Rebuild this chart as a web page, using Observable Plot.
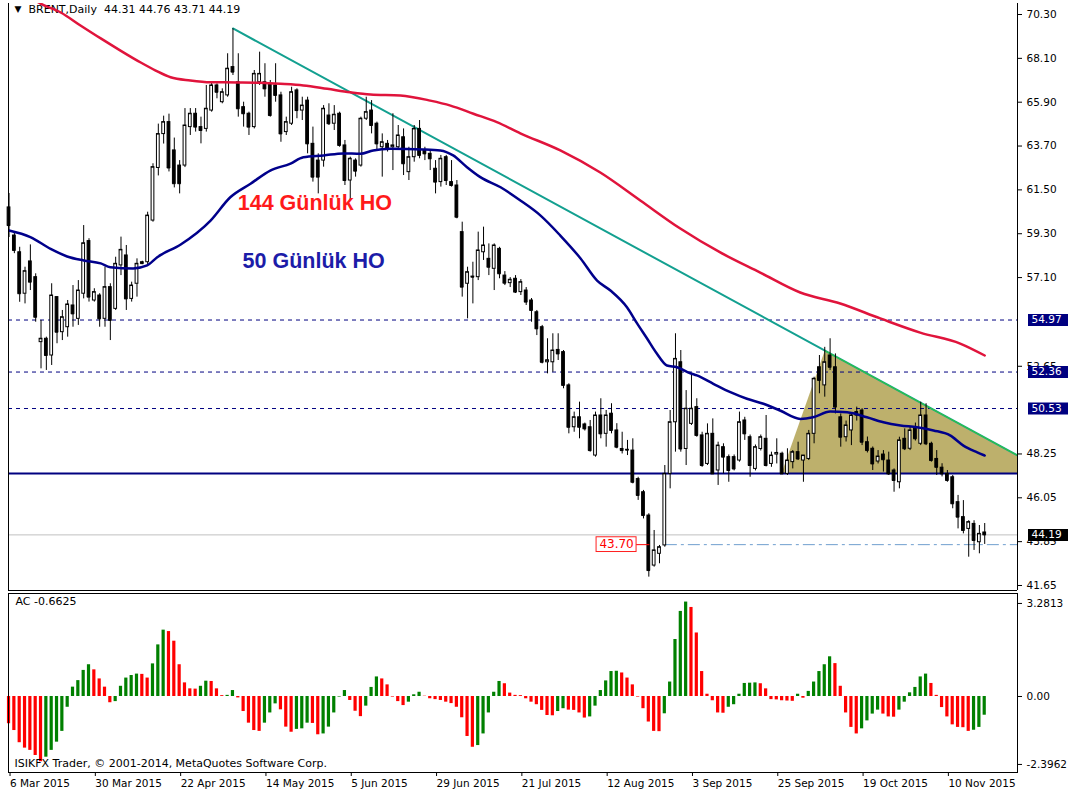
<!DOCTYPE html>
<html><head><meta charset="utf-8">
<script src="https://cdn.jsdelivr.net/npm/d3@7"></script>
<script src="https://cdn.jsdelivr.net/npm/@observablehq/plot@0.6"></script>
<style>
body{margin:0;background:#fff;}
#wrap{position:relative;width:1068px;height:798px;overflow:hidden;background:#fff;}
#wrap svg{position:absolute;left:0;overflow:visible;}
</style></head><body><div id="wrap"></div>
<script>
// ---------- DATA ----------
const opens  = [60.62,59.21,58.37,56.29,57.91,57.12,53.86,54.03,53.19,56.12,54.36,54.61,55.70,55.03,56.29,58.93,55.95,56.20,55.03,56.62,55.53,57.71,58.21,56.03,56.79,57.87,57.87,59.96,62.60,64.30,64.90,63.48,62.72,62.72,64.65,65.32,64.65,64.56,65.48,66.74,65.90,66.24,67.66,66.90,65.65,65.32,64.65,66.90,66.90,66.82,66.74,66.24,64.40,64.82,66.49,65.48,65.98,63.81,62.97,62.97,65.23,64.82,65.32,63.73,61.97,62.97,62.72,65.07,65.48,64.82,63.64,63.81,63.64,63.64,64.14,62.39,63.14,64.56,63.48,63.31,62.56,61.89,63.14,61.89,61.72,59.38,56.79,57.15,57.12,58.37,58.04,57.54,58.54,57.20,56.82,57.04,56.37,56.45,55.95,55.36,54.61,52.85,52.85,53.47,53.36,51.69,49.59,50.09,49.73,49.59,48.17,50.18,49.26,50.27,49.43,48.50,48.46,48.42,46.99,46.33,45.16,42.65,43.24,43.66,47.25,49.84,52.85,48.50,49.76,50.60,49.18,47.75,49.26,47.42,48.59,48.09,48.09,47.92,49.93,49.09,47.50,48.50,49.01,47.75,48.22,48.26,47.25,47.84,48.34,47.92,48.00,49.26,52.60,51.69,53.19,52.60,50.09,49.09,49.43,50.35,50.43,48.84,48.51,47.87,48.22,47.92,47.42,46.83,49.01,48.51,49.51,48.76,50.18,48.76,48.00,47.56,47.25,47.08,45.83,45.08,44.49,44.74,43.82,44.31];
const highs  = [61.32,59.35,58.62,57.62,58.74,57.29,54.95,54.11,56.79,56.12,55.45,55.95,56.70,56.95,59.71,59.05,56.54,56.29,57.62,56.79,58.12,59.13,58.71,56.87,58.04,57.92,60.38,62.81,64.80,65.20,65.30,64.10,62.97,65.58,65.58,65.58,65.15,66.74,66.90,66.82,66.57,68.33,69.58,68.33,65.90,65.40,67.49,68.41,67.83,66.99,67.83,66.40,65.15,66.65,66.57,66.15,66.15,64.65,63.31,65.73,65.82,65.73,65.40,63.98,63.14,63.06,65.15,66.15,65.98,64.90,64.31,63.98,65.32,64.73,64.56,63.64,64.73,64.98,63.64,63.48,62.97,63.23,63.23,62.97,61.97,59.88,57.62,57.87,59.38,59.63,58.79,58.79,58.62,57.40,57.10,57.20,57.00,56.60,56.05,55.45,54.70,54.03,54.28,54.28,53.44,51.77,50.35,50.85,49.80,49.93,50.35,51.02,50.43,50.77,49.77,49.34,48.93,49.01,47.08,46.42,45.25,44.41,43.66,47.67,50.43,54.28,53.44,51.43,52.27,51.02,49.34,49.76,50.01,48.84,48.76,48.20,48.20,50.35,50.09,49.20,48.70,49.20,50.18,48.34,49.01,48.34,48.51,48.42,48.84,48.17,49.43,52.10,53.19,53.60,54.03,53.27,50.26,49.90,50.27,50.60,50.52,49.10,48.60,48.42,48.42,48.34,47.50,49.09,49.51,49.59,49.80,50.85,50.77,48.84,48.42,47.76,47.42,47.17,46.17,45.91,44.90,44.90,44.66,44.76];
const lows   = [59.11,58.30,55.86,55.78,56.45,54.86,52.52,52.44,52.69,53.78,53.94,54.11,54.61,54.70,56.03,55.87,55.87,54.61,54.61,53.94,55.45,57.20,55.45,55.87,56.12,57.75,57.71,59.88,62.20,63.80,62.40,61.60,61.30,62.62,64.23,64.40,63.81,64.40,65.40,66.07,65.82,66.15,67.24,65.15,64.65,64.23,64.56,66.74,66.15,65.15,65.90,63.89,64.23,64.73,65.07,64.98,63.31,61.89,61.30,62.64,64.73,64.48,63.64,61.72,60.97,62.14,62.64,64.98,64.31,63.48,62.14,63.40,62.47,63.48,62.22,61.97,62.89,63.06,62.97,62.47,61.30,61.64,61.72,61.64,60.05,56.12,55.03,55.78,56.95,57.96,57.20,56.45,57.04,56.70,56.60,56.30,56.20,55.70,54.86,54.19,52.77,52.27,52.35,52.94,51.52,49.26,49.34,49.01,49.40,48.34,48.09,49.01,48.59,49.26,48.51,48.25,48.17,46.75,45.92,44.99,42.07,42.57,42.74,43.57,46.50,48.34,48.34,47.67,49.68,49.09,47.58,47.67,47.25,46.67,47.25,46.83,47.40,47.84,48.93,47.08,47.40,48.40,47.60,47.58,47.75,47.22,47.17,47.50,47.92,46.83,47.92,48.76,51.27,51.10,52.44,50.26,48.59,48.85,48.67,49.90,48.67,48.30,47.42,47.75,47.34,47.17,46.33,46.50,48.42,48.42,48.90,48.67,48.67,47.84,47.17,47.10,46.83,45.50,44.49,44.24,43.07,43.41,43.24,43.71];
const closes = [59.71,58.46,56.29,57.42,56.87,55.11,54.03,53.19,56.20,54.36,55.11,55.75,55.28,56.45,58.82,56.12,56.37,55.03,56.62,54.95,57.79,58.49,56.03,56.70,57.79,57.80,60.21,62.64,64.30,64.90,62.60,61.81,61.81,64.73,65.32,64.65,64.48,65.57,66.74,66.40,66.40,67.58,67.41,65.57,65.32,64.65,67.32,67.32,66.57,65.23,66.24,64.31,64.90,66.40,65.48,65.73,63.81,62.14,62.14,65.57,64.82,65.27,63.73,61.97,63.06,62.44,65.07,65.40,64.73,63.81,63.89,63.56,63.73,64.23,62.81,63.14,64.56,63.23,63.31,63.06,61.89,63.06,61.97,61.72,60.13,56.62,57.37,57.12,58.46,58.71,57.62,58.71,57.29,56.82,56.99,56.37,56.87,55.87,55.45,54.53,52.85,52.95,53.44,53.27,51.69,49.59,50.09,49.59,49.51,48.42,50.18,49.26,50.18,49.43,48.59,48.42,48.44,46.83,46.17,45.16,42.40,43.41,43.57,47.25,49.84,53.02,48.50,50.52,50.52,49.18,47.67,49.26,47.25,48.67,48.09,47.42,47.50,49.84,49.26,47.67,48.59,49.09,47.67,48.17,48.30,47.25,47.92,48.34,48.00,48.17,49.26,52.02,51.94,52.85,52.60,50.60,49.09,49.68,50.18,50.20,48.84,48.42,47.75,48.12,47.96,47.25,46.92,48.93,48.51,49.43,49.01,50.18,48.76,47.92,47.58,47.25,46.92,45.75,45.08,44.41,44.83,43.91,44.24,44.19];
const acValues = [-0.96,-1.20,-1.63,-1.82,-1.90,-2.08,-2.30,-2.14,-1.90,-1.61,-1.23,-0.38,0.33,0.56,0.92,1.12,0.94,0.62,0.33,-0.22,-0.18,0.36,0.65,0.74,0.79,0.78,0.65,1.15,1.82,2.34,2.29,1.95,1.12,0.48,0.27,0.26,0.36,0.54,0.53,0.27,0.03,0.04,0.21,-0.05,-0.53,-0.94,-1.20,-1.23,-0.94,-0.58,-0.26,-0.47,-1.08,-1.26,-1.16,-1.14,-0.94,-0.95,-1.35,-1.32,-1.08,-0.58,-0.02,0.21,-0.14,-0.52,-0.71,-0.34,0.32,0.69,0.62,0.41,-0.02,-0.18,-0.32,-0.20,0.06,0.15,0.01,-0.08,-0.11,-0.14,-0.20,-0.25,-0.38,-0.75,-1.41,-1.79,-1.73,-1.32,-0.58,0.15,0.53,0.45,0.12,0.04,0.03,-0.08,-0.20,-0.29,-0.49,-0.67,-0.68,-0.53,-0.43,-0.48,-0.49,-0.58,-0.76,-0.72,-0.34,0.21,0.55,0.88,0.89,0.83,0.65,0.41,-0.02,-0.43,-0.90,-1.23,-1.24,-0.61,0.51,2.01,3.00,3.33,3.14,2.24,0.88,0.08,-0.15,-0.58,-0.59,-0.38,-0.29,0.08,0.46,0.47,0.48,0.45,0.27,-0.11,-0.12,-0.15,-0.16,-0.17,0.08,-0.06,0.18,0.51,0.88,1.12,1.40,1.16,0.36,-0.58,-1.09,-1.32,-1.14,-0.86,-0.62,-0.48,-0.62,-0.72,-0.73,-0.48,-0.20,0.13,0.32,0.69,0.79,0.46,0.04,-0.39,-0.72,-1.00,-1.09,-1.10,-1.23,-1.19,-1.09,-0.66];
const ma50Idx = [0,4.0,7.8,10.9,14.0,17.2,19.0,23.3,25.9,27.8,32.2,37.8,41.5,45.3,49.0,52.8,55.2,59.0,62.7,65.9,68.3,71.5,77.7,80.9,83.3,85.9,88.4,92.2,95.9,99.7,103.4,107.2,110.3,112.8,115.9,117.8,119.7,121.5,123.4,125.3,127.8,129.0,132.1,135.3,138.4,141.5,144.6,148.4,150.8,154.0,157.2,160.9,164.0,167.2,170.3,173.4,176.5,179.0,181.5,183];
const ma50Val = [59.46,59.13,58.54,58.16,57.96,57.81,57.62,57.56,57.71,58.12,58.76,59.96,61.13,61.81,62.47,62.82,63.14,63.23,63.33,63.31,63.48,63.56,63.53,63.48,63.23,62.64,62.14,61.63,60.97,60.21,59.21,58.06,56.95,56.45,55.61,54.80,54.03,53.29,52.69,52.60,52.30,52.19,51.77,51.35,51.02,50.77,50.43,50.01,50.09,50.38,50.34,50.09,49.84,49.68,49.59,49.43,49.18,48.67,48.34,48.17];
const ma144Idx = [0,5.9,9.7,13.4,17.2,20.9,24.7,27.5,30.3,34.0,37.8,42.8,47.2,50.9,55.2,59.7,64.0,67.8,73.4,79.0,82.8,87.1,91.5,95.9,103.4,110.9,118.4,125.9,133.4,140.9,148.4,155.9,163.4,170.9,178.4,183];
const ma144Val = [71.90,70.85,70.40,69.75,69.10,68.49,67.89,67.49,67.15,66.99,66.90,66.89,66.87,66.82,66.74,66.57,66.40,66.29,66.24,65.98,65.73,65.32,64.90,64.34,63.48,62.37,60.97,59.56,58.36,57.35,56.35,55.80,55.05,54.34,53.79,53.19];
const trendIdx = [42, 189.2];
const trendVal = [69.60, 48.17];
const triangleIdx = [145.0, 153.1, 195.3];
const triangleTop = [47.27, 53.42, 47.27];
const dashedLevels = [54.97, 52.36, 50.53];
const supportLevel = 47.27;
const bidPrice = 44.19;
const markPrice = 43.70;
// tick labels fully hidden behind the level boxes (54.90, 50.45) are left out
const priceTickValues = [70.30,68.10,65.90,63.70,61.50,59.30,57.10,52.65,48.25,46.05,43.85,41.65];
const priceTickLabels = ["70.30","68.10","65.90","63.70","61.50","59.30","57.10","52.65","48.25","46.05","43.85","41.65"];
const acTickValues = [3.2813, 0, -2.3962];
const acTickLabels = ["3.2813","0.00","-2.3962"];
const dateTickIdx = [0,16,32,48,64,80,96,112,128,144,160,176];
const dateTickLabels = ["6 Mar 2015","30 Mar 2015","22 Apr 2015","14 May 2015","5 Jun 2015","29 Jun 2015","21 Jul 2015","12 Aug 2015","3 Sep 2015","25 Sep 2015","19 Oct 2015","10 Nov 2015"];
const headerText = "BRENT,Daily  44.31 44.76 43.71 44.19";
const acHeader = "AC -0.6625";
const footerText = "ISIKFX Trader, © 2001-2014, MetaQuotes Software Corp.";
const annotations = [
  {i: 42.9, p: 60.82, text: "144 Günlük HO", color: "#ff1a1a"},
  {i: 43.8, p: 57.91, text: "50 Günlük HO", color: "#1c1ca8"}
];

// ---------- BUILD ----------
const W = 1068;
const xDomain = [-0.1, 189.15];
const font = "DejaVu Sans, Verdana, sans-serif";
const candles = opens.map((o, i) => ({i, o, h: highs[i], l: lows[i], c: closes[i]}));
const ups = candles.filter(d => d.c >= d.o);
const downs = candles.filter(d => d.c < d.o);
const ma50 = ma50Idx.map((x, k) => ({x, y: ma50Val[k]}));
const ma144 = ma144Idx.map((x, k) => ({x, y: ma144Val[k]}));
const trend = trendIdx.map((x, k) => ({x, y: trendVal[k]}));
const tri = triangleIdx.map((x, k) => ({x, y1: supportLevel, y2: triangleTop[k]}));
const lastX = xDomain[1];
const pxPerBar = (1017 - 8) / (xDomain[1] - xDomain[0]);
const bx = (px) => xDomain[1] + px / pxPerBar; // offset in the right margin

const tickLabel = (v) => priceTickLabels[priceTickValues.indexOf(v)];
const boxes = [
  ...dashedLevels.map(v => ({v, bg: "#000080", fg: "#fff", label: v.toFixed(2)})),
  {v: bidPrice, bg: "#000", fg: "#fff", label: bidPrice.toFixed(2)}
];

const main = Plot.plot({
  width: W, height: 592,
  marginLeft: 8, marginRight: 51, marginTop: 3, marginBottom: 2,
  x: {domain: xDomain, axis: null, label: null},
  y: {domain: [41.399, 70.852], axis: null, label: null},
  style: {fontFamily: font, fontSize: "10.5px", background: "transparent", overflow: "visible"},
  marks: [
    Plot.text([headerText], {frameAnchor: "top-left", dx: 20, dy: 2, text: d => d, fill: "#000", fontSize: 11}),
    Plot.text(["▼"], {frameAnchor: "top-left", dx: 6, dy: 2, text: d => d, fill: "#000", fontSize: 9}),
    Plot.areaY(tri, {x: "x", y1: "y1", y2: "y2", fill: "#bdb06c", clip: true}),
    Plot.ruleY(dashedLevels, {stroke: "#000080", strokeWidth: 1, strokeDasharray: "4,4"}),
    Plot.ruleY([bidPrice], {stroke: "#c0c0c0", strokeWidth: 1}),
    Plot.ruleY([supportLevel], {stroke: "#000080", strokeWidth: 2}),
    Plot.ruleY([markPrice], {x1: 123.1, x2: lastX, stroke: "#6f9fcf", strokeWidth: 1, strokeDasharray: "12,4,3,4"}),
    Plot.line(trend, {x: "x", y: "y", stroke: "#13a090", strokeWidth: 2, clip: true}),
    Plot.line(trend.map((d, k) => k === 0 ? {x: 153.1, y: 53.42} : d), {x: "x", y: "y", stroke: "#33cc33", strokeWidth: 1, clip: true}),
    Plot.ruleX(candles, {x: "i", y1: "l", y2: "h", stroke: "#000", strokeWidth: 1}),
    Plot.rect(ups, {x1: d => d.i - 0.26, x2: d => d.i + 0.26, y1: "o", y2: "c", fill: "#fff", stroke: "#000", strokeWidth: 1}),
    Plot.rect(downs, {x1: d => d.i - 0.26, x2: d => d.i + 0.26, y1: "c", y2: "o", fill: "#000", stroke: "#000", strokeWidth: 1}),
    Plot.ruleY(candles, {x1: d => d.i - 0.3, x2: d => d.i + 0.3, y: "c", stroke: "#000", strokeWidth: 1}),
    Plot.line(ma144, {x: "x", y: "y", stroke: "#e0143c", strokeWidth: 2.5, clip: true, curve: "monotone-x"}),
    Plot.line(ma50, {x: "x", y: "y", stroke: "#00008b", strokeWidth: 2.5, clip: true, curve: "monotone-x"}),
    Plot.text(annotations, {x: "i", y: "p", text: "text", fill: "color", textAnchor: "start", fontWeight: "bold", fontSize: 21.5, fontFamily: "Liberation Sans, Arial, sans-serif"}),
    // 43.70 price label
    Plot.ruleY([markPrice], {x1: 117.7, x2: 120.2, stroke: "#ff0000", strokeWidth: 1}),
    Plot.rect([markPrice], {x1: 110.2, x2: 117.7, y1: d => d - 0.37, y2: d => d + 0.37, fill: "#fff", stroke: "#ff2020", strokeWidth: 1}),
    Plot.text([markPrice], {x: 113.95, y: d => d, text: d => d.toFixed(2), fill: "#ff0000", fontSize: 12}),
    // right axis
    Plot.axisY(priceTickValues, {anchor: "right", label: null, tickSize: 4, tickPadding: 5, tickFormat: tickLabel, textAnchor: "start", fill: "#000"}),
    Plot.ruleY(boxes, {y: "v", x1: bx(11), x2: bx(60), stroke: "bg", strokeWidth: 12}),
    Plot.text(boxes, {y: "v", x: bx(14), text: "label", fill: "fg", textAnchor: "start", fontSize: 10.5}),
    Plot.ruleX([xDomain[0]], {stroke: "#000"}),
    Plot.ruleX([xDomain[1]], {stroke: "#000"}),
    Plot.ruleY([41.399], {stroke: "#000"})
  ]
});

const acData = acValues.map((v, i) => ({i, v, up: i > 0 && v > acValues[i - 1]}));
const lower = Plot.plot({
  width: W, height: 208,
  marginLeft: 8, marginRight: 51, marginTop: 3, marginBottom: 26,
  x: {domain: xDomain, axis: null, label: null},
  y: {domain: [-2.680, 3.632], axis: null, label: null},
  style: {fontFamily: font, fontSize: "10.5px", background: "transparent", overflow: "visible"},
  marks: [
    Plot.rect(acData.filter(d => d.up), {x1: d => d.i - 0.3, x2: d => d.i + 0.3, y1: 0, y2: "v", fill: "#008000"}),
    Plot.rect(acData.filter(d => !d.up), {x1: d => d.i - 0.3, x2: d => d.i + 0.3, y1: 0, y2: "v", fill: "#ff0000"}),
    Plot.text([acHeader], {frameAnchor: "top-left", dx: 7, dy: 4, text: d => d, fill: "#000", fontSize: 11}),
    Plot.text([footerText], {frameAnchor: "bottom-left", dx: 6, dy: -6, text: d => d, fill: "#000", fontSize: 11}),
    Plot.axisY(acTickValues, {anchor: "right", label: null, tickSize: 4, tickPadding: 5, tickFormat: v => acTickLabels[acTickValues.indexOf(v)], textAnchor: "start", fill: "#000"}),
    Plot.axisX(dateTickIdx, {anchor: "bottom", label: null, tickSize: 4, tickPadding: 3, tickFormat: v => dateTickLabels[dateTickIdx.indexOf(v)], textAnchor: "start", dx: 1, fill: "#000"}),
    Plot.frame({stroke: "#000"})
  ]
});

const wrap = document.getElementById("wrap");
main.style.top = "0px";
lower.style.top = "590px";
wrap.appendChild(main);
wrap.appendChild(lower);
</script>
</body></html>
